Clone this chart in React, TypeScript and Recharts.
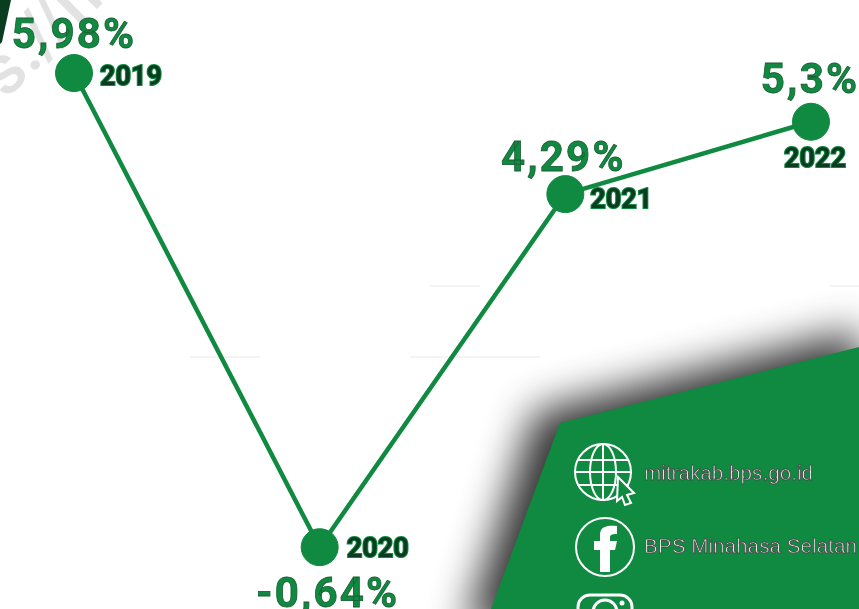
import { LineChart, Line, XAxis, YAxis, LabelList } from "recharts";

const years = ["2019", "2020", "2021", "2022"];
const growth = [5.98, -0.64, 4.29, 5.3];
const growthLabels = ["5,98%", "-0,64%", "4,29%", "5,3%"];

const chartData = years.map((year, i) => ({ year, growth: growth[i], label: growthLabels[i] }));

const GREEN = "#0f8a40";
const DARK = "#0a3d20";

// label offsets from the dot, per year
const valueOffset = [{ dx: 0, dy: -40 }, { dx: 8, dy: 45 }, { dx: -2, dy: -38 }, { dx: -1, dy: -43 }];
const yearOffset = [{ dx: 57, dy: 3 }, { dx: 58, dy: 1 }, { dx: 56, dy: 5 }, { dx: 4, dy: 36 }];

function ValueLabel({ x, y, index }: any) {
  const o = valueOffset[index];
  return (
    <text x={x + o.dx} y={y + o.dy} textAnchor="middle" dominantBaseline="central" fontFamily="Roboto" fontWeight={700}
      fontSize={42} letterSpacing={2.2} fill={GREEN} stroke="#1a5c33" strokeWidth={0.8} style={{ filter: "blur(0.6px)" }}>
      {growthLabels[index]}
    </text>
  );
}

function YearLabel({ x, y, index }: any) {
  const o = yearOffset[index];
  return (
    <text x={x + o.dx} y={y + o.dy} textAnchor="middle" dominantBaseline="central" fontFamily="Roboto" fontWeight={700}
      fontSize={27} fill={DARK} stroke={GREEN} strokeWidth={2} paintOrder="stroke" style={{ filter: "blur(0.5px)" }}>
      {years[index]}
    </text>
  );
}

function Backdrop() {
  return (
    <svg width={859} height={609} style={{ position: "absolute", left: 0, top: 0 }}>
      <defs>
        <filter id="shadow" x="-30%" y="-30%" width="160%" height="160%">
          <feGaussianBlur stdDeviation="21" />
        </filter>
        <filter id="soft"><feGaussianBlur stdDeviation="0.6" /></filter>
      </defs>
      <rect width={859} height={609} fill="#ffffff" />
      <text x={6} y={100} transform="rotate(-45 6 100)" fontFamily="Roboto" fontSize={70} fontWeight={500} fill="#e2e2e2">s.//m</text>
      <polygon points="0,0 11,0 2,42 0,44" fill={DARK} />
      <g fill="#f4f4f4">
        <rect x={190} y={356} width={70} height={2} />
        <rect x={410} y={356} width={130} height={2} />
        <rect x={430} y={285} width={50} height={2} />
        <rect x={830} y={285} width={29} height={2} />
      </g>
      <polygon points="535,412 859,330 880,630 465,630" fill="#000000" opacity={0.8} filter="url(#shadow)" />
      <polygon points="560,423 859,347 859,609 491,609" fill={GREEN} />
      <g fill="none" stroke="#ffffff" strokeWidth={2} filter="url(#soft)">
        <circle cx={603} cy={472} r={28} />
        <ellipse cx={603} cy={472} rx={13} ry={28} />
        <path d="M603 444V500M577 460H629M575 472H631M577 485H629" />
        <path d="M618 477L634 493L627 495L631 503L625 505L622 497L617 501Z" fill={GREEN} />
        <circle cx={605} cy={547} r={29} />
        <rect x={578} y={595} width={54} height={40} rx={12} strokeWidth={3} />
        <circle cx={605} cy={612} r={12} strokeWidth={3} />
      </g>
      <path d="M600 572V550H594V541H600V535C600 527 606 525 617 526V534C611 534 610 535 610 538V541H617L615 550H610V572Z" fill="#ffffff" />
      <circle cx={622} cy={603} r={2.5} fill="#ffffff" />
      <g fontFamily="Liberation Sans" fill="#f0f0f0" stroke="#4a4a4a" strokeWidth={0.9} style={{ filter: "blur(0.4px)" }}>
        <text x={644} y={480} fontSize={21} textLength={169} lengthAdjust="spacingAndGlyphs">mitrakab.bps.go.id</text>
        <text x={644} y={553} fontSize={21} textLength={213} lengthAdjust="spacingAndGlyphs">BPS Minahasa Selatan</text>
      </g>
    </svg>
  );
}

export default function App() {
  return (
    <div style={{ position: "absolute", left: 0, top: 0, width: 859, height: 609, overflow: "hidden" }}>
      <Backdrop />
      <div style={{ position: "absolute", left: 0, top: 0 }}>
        <LineChart width={859} height={609} data={chartData} margin={{ top: 0, right: 48, bottom: 36, left: 74 }}>
          <XAxis dataKey="year" hide padding={{ left: 0, right: 0 }} />
          <YAxis hide domain={[-1, 7]} width={0} />
          <Line
            dataKey="growth"
            stroke={GREEN}
            strokeWidth={4.5}
            dot={{ r: 18.5, fill: GREEN, stroke: GREEN, strokeWidth: 1 }}
            activeDot={false}
            isAnimationActive={false}
          >
            <LabelList dataKey="label" content={<ValueLabel />} />
            <LabelList dataKey="year" content={<YearLabel />} />
          </Line>
        </LineChart>
      </div>
    </div>
  );
}
